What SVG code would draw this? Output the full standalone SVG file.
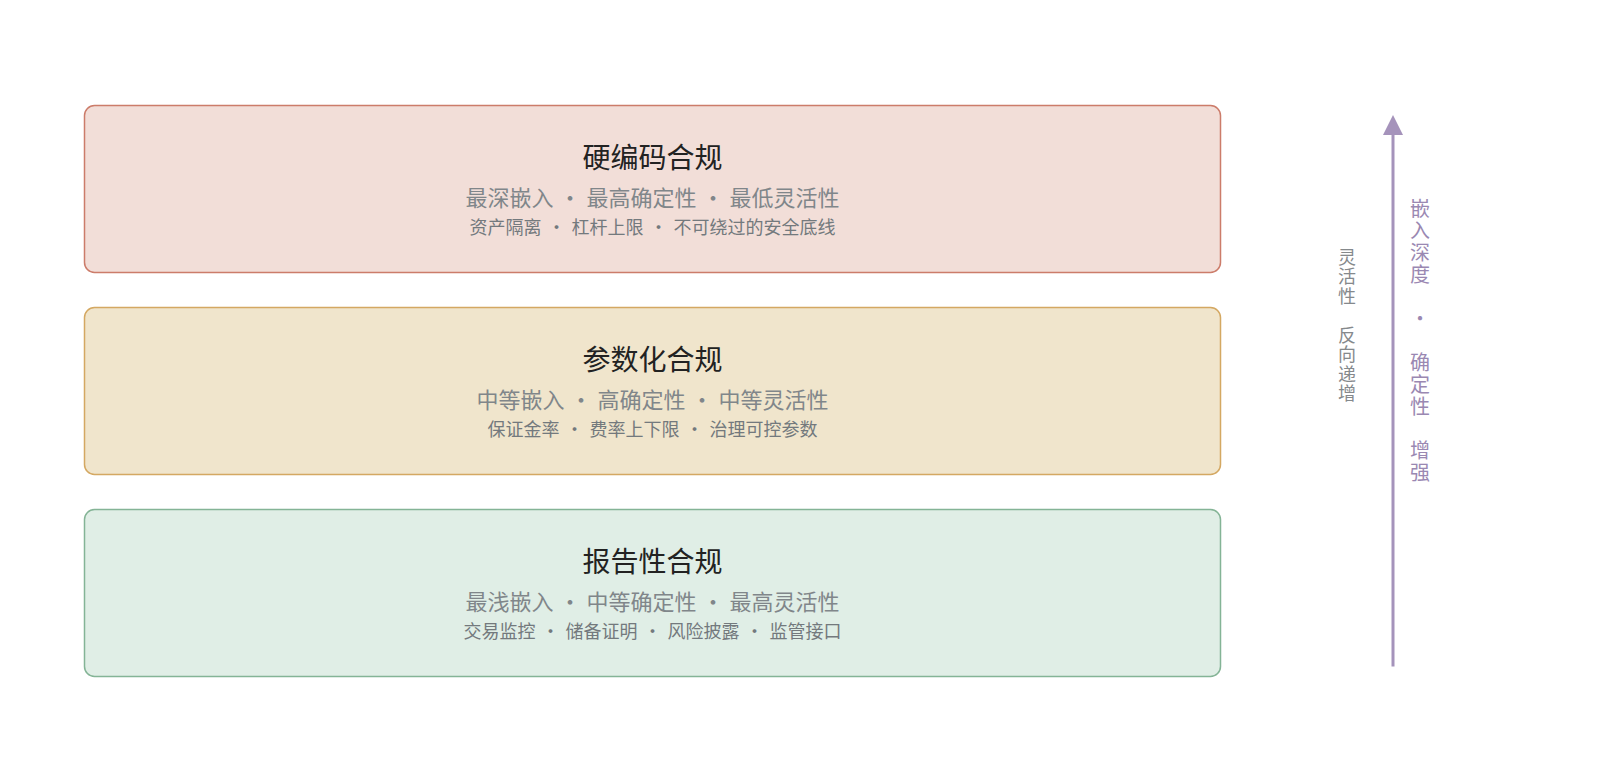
<svg xmlns="http://www.w3.org/2000/svg" width="1600" height="783" viewBox="0 0 1600 783">
<style>
text{font-family:"Noto Sans CJK SC","Noto Sans",sans-serif;}
.box{stroke-width:1.5;}
.t{font-size:28px;fill:#222222;text-anchor:middle;}
.s{font-size:22px;fill:#80868a;}
.d{font-size:18px;fill:#73797d;}
.dot{text-anchor:middle;}
.v{writing-mode:vertical-rl;text-orientation:upright;}
.vl{font-size:18px;fill:#85898c;letter-spacing:1.5px;}
.vr{font-size:20px;fill:#9a88b2;letter-spacing:2px;}
</style>
<defs>
<marker id="ah" viewBox="0 0 20 20" markerWidth="20" markerHeight="20" refX="0" refY="10" orient="auto" markerUnits="userSpaceOnUse">
<path d="M0,0 L20,10 L0,20 Z" fill="#a593bb"/>
</marker>
</defs>
<rect width="1600" height="783" fill="#ffffff"/>
<g id="node-hardcoded">
<rect class="box" x="84.5" y="105.5" width="1136" height="167" rx="10" fill="#f2ded8" stroke="#cc7c6a"/>
<text class="t" x="652.5" y="167.5">硬编码合规</text>
<text class="s" y="205.5"><tspan x="465.5">最深嵌入</tspan><tspan class="dot" x="570">·</tspan><tspan x="586.5">最高确定性</tspan><tspan class="dot" x="713">·</tspan><tspan x="729.5">最低灵活性</tspan></text>
<text class="d" y="233.5"><tspan x="469.5">资产隔离</tspan><tspan class="dot" x="556.5">·</tspan><tspan x="571.5">杠杆上限</tspan><tspan class="dot" x="658.5">·</tspan><tspan x="673.5">不可绕过的安全底线</tspan></text>
</g>
<g id="node-parametric">
<rect class="box" x="84.5" y="307.5" width="1136" height="167" rx="10" fill="#f0e5cc" stroke="#d4a862"/>
<text class="t" x="652.5" y="369.5">参数化合规</text>
<text class="s" y="407.5"><tspan x="476.5">中等嵌入</tspan><tspan class="dot" x="581">·</tspan><tspan x="597.5">高确定性</tspan><tspan class="dot" x="702">·</tspan><tspan x="718.5">中等灵活性</tspan></text>
<text class="d" y="435.5"><tspan x="487.5">保证金率</tspan><tspan class="dot" x="574.5">·</tspan><tspan x="589.5">费率上下限</tspan><tspan class="dot" x="694.5">·</tspan><tspan x="709.5">治理可控参数</tspan></text>
</g>
<g id="node-reporting">
<rect class="box" x="84.5" y="509.5" width="1136" height="167" rx="10" fill="#e0eee6" stroke="#84b496"/>
<text class="t" x="652.5" y="571.5">报告性合规</text>
<text class="s" y="609.5"><tspan x="465.5">最浅嵌入</tspan><tspan class="dot" x="570">·</tspan><tspan x="586.5">中等确定性</tspan><tspan class="dot" x="713">·</tspan><tspan x="729.5">最高灵活性</tspan></text>
<text class="d" y="637.5"><tspan x="463.5">交易监控</tspan><tspan class="dot" x="550.5">·</tspan><tspan x="565.5">储备证明</tspan><tspan class="dot" x="652.5">·</tspan><tspan x="667.5">风险披露</tspan><tspan class="dot" x="754.5">·</tspan><tspan x="769.5">监管接口</tspan></text>
</g>
<g id="connectors">
<line x1="1393" y1="666.5" x2="1393" y2="135" stroke="#a593bb" stroke-width="3" marker-end="url(#ah)"/>
</g>
<g id="axis-labels">
<text class="v vl" x="1347" y="248">灵活性　反向递增</text>
<text class="v vr" x="1420" y="198">嵌入深度　·　确定性　增强</text>
</g>
</svg>
